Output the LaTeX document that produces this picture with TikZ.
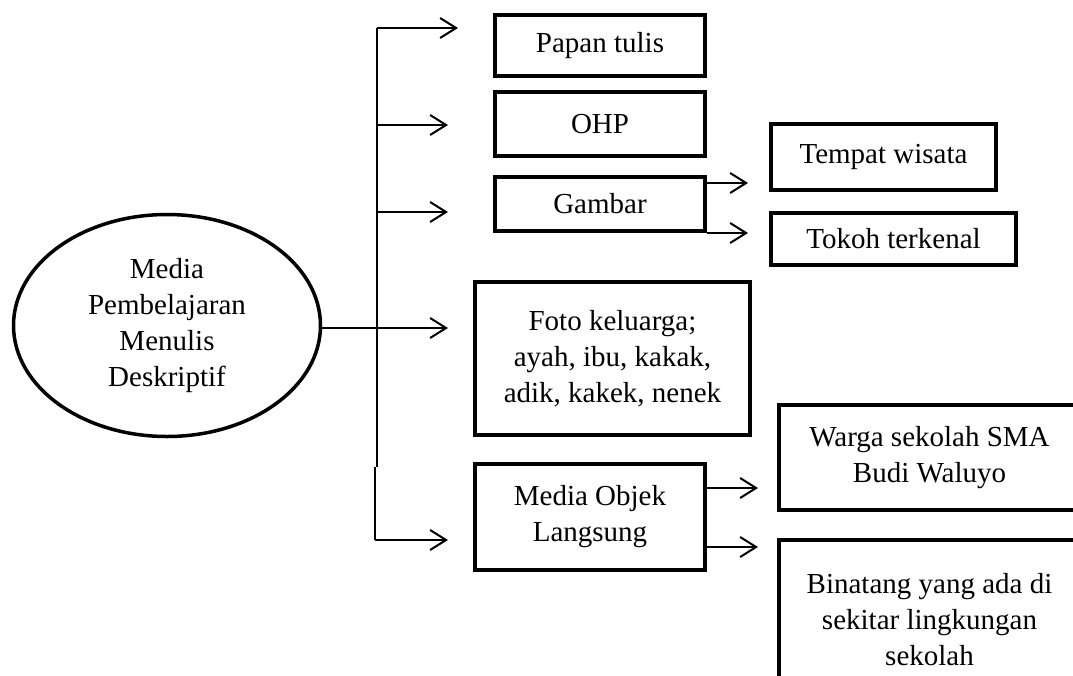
\documentclass[tikz,border=0pt]{standalone}
\usepackage{fontspec}
\setmainfont{Liberation Serif}
\usetikzlibrary{positioning, calc, shapes, arrows.meta}

\begin{document}
\begin{tikzpicture}[x=1pt, y=-1pt,
    font=\fontsize{29}{36}\selectfont,
    box/.style={draw, line width=4pt, align=center, inner sep=0pt},
    link/.style={line width=2pt},
    arr/.style={link, -{Straight Barb[length=16pt, width=20pt, line width=2pt]}}]
    \useasboundingbox (0,0) rectangle (1073,675);
    \clip (0,0) rectangle (1073,675);

    \node[draw, ellipse, line width=3.5pt, align=center, minimum width=307pt, minimum height=222pt, inner sep=0pt] (media) at (167,325.5) {Media\\Pembelajaran\\Menulis\\Deskriptif};

    \node[box, minimum width=210pt, minimum height=61pt] (papan) at (600,45.5) {Papan tulis};
    \node[box, minimum width=210pt, minimum height=64pt] (ohp) at (600,124) {OHP};
    \node[box, minimum width=210pt, minimum height=54pt] (gambar) at (600,204) {Gambar};
    \node[box, minimum width=275pt, minimum height=153pt] (foto) at (612.5,358.5) {Foto keluarga;\\ayah, ibu, kakak,\\adik, kakek, nenek};
    \node[box, minimum width=230pt, minimum height=106pt] (objek) at (590,517) {Media Objek\\Langsung};

    \node[box, minimum width=225pt, minimum height=66pt] (wisata) at (883.5,157) {Tempat wisata};
    \node[box, minimum width=245pt, minimum height=52pt] (tokoh) at (893.5,239) {Tokoh terkenal};
    \node[box, minimum width=301pt, minimum height=105pt] (warga) at (929.5,457.5) {Warga sekolah SMA\\Budi Waluyo};
    \node[box, minimum width=301pt, minimum height=160pt] (binatang) at (929.5,620) {Binatang yang ada di\\sekitar lingkungan\\sekolah};

    % trunk
    \coordinate (t1) at (377,28);
    \coordinate (t2) at (377,125);
    \coordinate (t3) at (377,212);
    \coordinate (t4) at (377,328);
    \coordinate (tj) at (377,467);
    \coordinate (tk) at (375,467);
    \coordinate (t5) at (375,540);
    \draw[link] (t1) -- (tj);
    \draw[link] (tk) -- (t5);

    \draw[arr, shorten >=35pt] (t1) -- (t1 -| papan.west);
    \draw[arr, shorten >=45pt] (t2) -- (t2 -| ohp.west);
    \draw[arr, shorten >=45pt] (t3) -- (t3 -| gambar.west);
    \draw[arr, shorten >=25pt] (media.east |- t4) -- (t4 -| foto.west);
    \draw[arr, shorten >=25pt] (t5) -- (t5 -| objek.west);

    % sub branches
    \coordinate (g1) at ([yshift=-8pt]gambar.north east);
    \draw[arr, shorten >=21pt] (g1) -- (g1 -| wisata.west);
    \draw[arr, shorten >=21pt] (gambar.south east) -- (gambar.south east -| tokoh.west);
    \coordinate (o1) at ([yshift=-26pt]objek.north east);
    \coordinate (o2) at ([yshift=25pt]objek.south east);
    \draw[arr, shorten >=19pt] (o1) -- (o1 -| warga.west);
    \draw[arr, shorten >=19pt] (o2) -- (o2 -| binatang.west);
\end{tikzpicture}
\end{document}
